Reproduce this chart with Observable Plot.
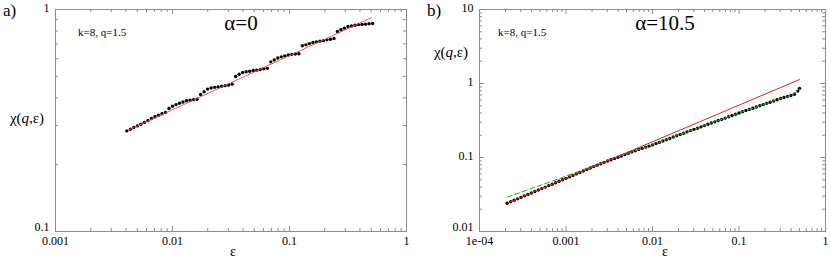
<!DOCTYPE html>
<html><head><meta charset="utf-8">
<script src="https://cdn.jsdelivr.net/npm/d3@7"></script>
<script src="https://cdn.jsdelivr.net/npm/@observablehq/plot@0.6"></script>
<style>
body{margin:0;background:#fff;}
#wrap{display:flex;width:830px;height:258px;overflow:hidden;}
svg, svg text{font-family:"Liberation Serif","Times New Roman",Times,"DejaVu Serif",serif !important;}
</style></head><body><div id="wrap"></div>
<script>
// ---------- panel a (alpha = 0) ----------
const epsA = [0.00407,0.00437,0.00468,0.00501,0.00537,0.00575,0.00617,0.00661,0.00708,0.00759,
  0.00813,0.00871,0.00933,0.0100,0.01072,0.01148,0.01230,0.01318,0.01413,0.01514,
  0.01622,0.01738,0.01862,0.01995,0.02138,0.02291,0.02455,0.02630,0.02818,0.03020,
  0.03236,0.03467,0.03715,0.03981,0.04266,0.04571,0.04898,0.05248,0.05623,0.06026,
  0.06457,0.06918,0.07413,0.07943,0.08511,0.09120,0.09772,0.1047,0.1122,0.1202,
  0.1288,0.1380,0.1479,0.1585,0.1698,0.1820,0.1950,0.2089,0.2239,0.2399,
  0.2570,0.2754,0.2951,0.3162,0.3388,0.3631,0.3890,0.4169,0.4467,0.4786,0.5129];
const chiA = [0.284,0.289,0.294,0.299,0.304,0.310,0.316,0.323,0.329,0.334,
  0.339,0.344,0.358,0.367,0.373,0.378,0.383,0.388,0.390,0.392,
  0.394,0.414,0.426,0.438,0.443,0.446,0.448,0.451,0.454,0.457,
  0.461,0.499,0.511,0.520,0.524,0.527,0.531,0.533,0.537,0.541,
  0.543,0.581,0.593,0.605,0.612,0.618,0.624,0.628,0.630,0.632,
  0.687,0.693,0.702,0.710,0.715,0.720,0.724,0.730,0.735,0.740,
  0.796,0.811,0.824,0.838,0.843,0.849,0.855,0.857,0.859,0.863,0.865];
const fitEpsA = [0.0042, 0.50];
const fitChiA = [0.286, 0.918];
const xTicksA = [0.001, 0.01, 0.1, 1];
const xLabelsA = ["0.001", "0.01", "0.1", "1"];
const yTicksA = [0.1, 1];
const yLabelsA = ["0.1", "1"];

// ---------- panel b (alpha = 10.5) ----------
const epsB = [2.089e-4,2.291e-4,2.512e-4,2.754e-4,3.020e-4,3.311e-4,3.631e-4,3.981e-4,4.365e-4,4.786e-4,
  5.248e-4,5.754e-4,6.310e-4,6.918e-4,7.586e-4,8.318e-4,9.120e-4,1.000e-3,1.096e-3,1.202e-3,
  1.318e-3,1.445e-3,1.585e-3,1.738e-3,1.905e-3,
  2.089e-3,2.291e-3,2.512e-3,2.754e-3,3.020e-3,3.311e-3,3.631e-3,3.981e-3,4.365e-3,4.786e-3,
  5.248e-3,5.754e-3,6.310e-3,6.918e-3,7.586e-3,8.318e-3,9.120e-3,0.01000,0.01096,0.01202,
  0.01318,0.01445,0.01585,0.01738,0.01905,
  0.02089,0.02291,0.02512,0.02754,0.03020,0.03311,0.03631,0.03981,0.04365,0.04786,
  0.05248,0.05754,0.06310,0.06918,0.07586,0.08318,0.09120,0.1000,0.1096,0.1202,
  0.1318,0.1445,0.1585,0.1738,0.1905,
  0.2089,0.2291,0.2512,0.2754,0.3020,0.3311,0.3631,0.3981,0.4365,0.4786,0.5000];
const chiB = [0.0241,0.0252,0.0264,0.0276,0.0289,0.0303,0.0317,0.0332,0.0347,0.0363,
  0.0380,0.0398,0.0417,0.0436,0.0456,0.0478,0.0500,0.0523,0.0547,0.0573,
  0.0600,0.0628,0.0657,0.0688,0.0720,0.0753,0.0788,
  0.0822,0.0860,0.0895,0.0932,0.0970,0.1010,0.1050,0.1095,0.1140,0.1185,
  0.1230,0.1280,0.1330,0.1380,0.1425,0.1480,0.1540,0.1600,0.1670,0.1740,
  0.1810,0.1890,0.1970,
  0.205,0.213,0.222,0.231,0.240,0.249,0.259,0.270,0.281,0.292,
  0.303,0.316,0.328,0.341,0.355,0.369,0.384,0.400,
  0.415,0.431,0.447,0.464,0.482,0.500,0.519,0.539,0.559,0.580,
  0.603,0.626,0.648,0.668,0.690,0.715,0.790,0.860];
const fitEpsB = [2.09e-4, 0.50];
const fitChiB = [0.0241, 1.13];
const greenEpsB = [2.09e-4,0.001,0.003,0.006,0.01,0.02,0.05,0.1,0.2,0.3,0.4,0.5];
const greenChiB = [0.0291,0.0561,0.0905,0.121,0.148,0.201,0.297,0.400,0.527,0.626,0.690,0.840];
const xTicksB = [1e-4, 0.001, 0.01, 0.1, 1];
const xLabelsB = ["1e-04", "0.001", "0.01", "0.1", "1"];
const yTicksB = [0.01, 0.1, 1, 10];
const yLabelsB = ["0.01", "0.1", "1", "10"];

const H = 258, MT = 9, MB = 27;
const GRAY = "#8c8c8c";
const FONT = '"Liberation Serif","Times New Roman",Times,"DejaVu Serif",serif';

function minorOf(majors) {
  const out = [];
  for (let i = 0; i < majors.length - 1; i++)
    for (let m = 2; m <= 9; m++) out.push(majors[i] * m);
  return out;
}
const zip = (xs, ys) => xs.map((x, i) => ({x, y: ys[i]}));

function panel(o) {
  const iw = o.width - o.ml - o.mr, ih = H - MT - MB;
  const xl = new Map(o.xTicks.map((t, i) => [t, o.xLabels[i]]));
  const yl = new Map(o.yTicks.map((t, i) => [t, o.yLabels[i]]));
  const mx = minorOf(o.xTicks), my = minorOf(o.yTicks);
  const svg = Plot.plot({
    width: o.width, height: H,
    marginLeft: o.ml, marginRight: o.mr, marginTop: MT, marginBottom: MB,
    x: {type: "log", domain: [o.xTicks[0], o.xTicks[o.xTicks.length - 1]]},
    y: {type: "log", domain: [o.yTicks[0], o.yTicks[o.yTicks.length - 1]]},
    style: {fontFamily: FONT, fontSize: "12px", background: "white", color: "black"},
    marks: [
      Plot.tickX(o.xTicks, {x: d => d, insetTop: ih - 5, stroke: GRAY}),
      Plot.tickX(o.xTicks, {x: d => d, insetBottom: ih - 5, stroke: GRAY}),
      Plot.tickX(mx, {x: d => d, insetTop: ih - 3, stroke: GRAY}),
      Plot.tickX(mx, {x: d => d, insetBottom: ih - 3, stroke: GRAY}),
      Plot.tickY(o.yTicks, {y: d => d, insetRight: iw - 5, stroke: GRAY}),
      Plot.tickY(o.yTicks, {y: d => d, insetLeft: iw - 5, stroke: GRAY}),
      Plot.tickY(my, {y: d => d, insetRight: iw - 3, stroke: GRAY}),
      Plot.tickY(my, {y: d => d, insetLeft: iw - 3, stroke: GRAY}),
      Plot.frame({stroke: GRAY}),
      Plot.axisX(o.xTicks, {tickSize: 0, tickPadding: 5, tickFormat: d => xl.get(d), label: null, fontSize: 12}),
      Plot.axisY(o.yTicks.slice(1), {tickSize: 0, tickPadding: 6, dy: -1, tickFormat: d => yl.get(d), label: null, fontSize: 12}),
      Plot.axisY(o.yTicks.slice(0, 1), {tickSize: 0, tickPadding: 6, dy: -4, tickFormat: d => yl.get(d), label: null, fontSize: 12}),
      ...o.marks
    ]
  });
  const s = d3.select(svg);
  const t = (x, y, size, anchor, txt) =>
    s.append("text").attr("x", x).attr("y", y).attr("font-size", size)
      .attr("text-anchor", anchor).attr("fill", "black")
      .style("font-family", FONT).text(txt);
  t(o.tagX, 16, 17, "start", o.tag);
  t(o.alphaX, 30, 21, "middle", o.alpha);
  t(o.kX, 36, 11, "start", "k=8, q=1.5");
  t(o.epsX, 256, 14, "middle", "ε");
  const yt = s.append("text").attr("x", o.chiX).attr("y", o.chiY).attr("font-size", 15)
    .attr("text-anchor", "middle").attr("fill", "black").style("font-family", FONT);
  yt.append("tspan").text("χ(");
  yt.append("tspan").attr("font-style", "italic").text("q");
  yt.append("tspan").text(",ε)");
  return svg;
}

const wrap = document.getElementById("wrap");
wrap.append(panel({
  width: 415, ml: 55, mr: 9,
  xTicks: xTicksA, xLabels: xLabelsA, yTicks: yTicksA, yLabels: yLabelsA,
  tag: "a)", tagX: 3, alpha: "α=0", alphaX: 241, kX: 78, epsX: 233, chiX: 27, chiY: 123,
  marks: [
    Plot.dot(zip(epsA, chiA), {x: "x", y: "y", r: 1.7, fill: "black"}),
    Plot.line(zip(fitEpsA, fitChiA), {x: "x", y: "y", stroke: "#ee4444", strokeWidth: 0.9})
  ]
}));
wrap.append(panel({
  width: 415, ml: 64, mr: 5,
  xTicks: xTicksB, xLabels: xLabelsB, yTicks: yTicksB, yLabels: yLabelsB,
  tag: "b)", tagX: 12, alpha: "α=10.5", alphaX: 250, kX: 83, epsX: 250, chiX: 36, chiY: 57,
  marks: [
    Plot.dot(zip(epsB, chiB), {x: "x", y: "y", r: 1.7, fill: "black"}),
    Plot.line(zip(greenEpsB, greenChiB), {x: "x", y: "y", stroke: "#22aa22", strokeWidth: 1, strokeDasharray: "5,3", curve: "monotone-x"}),
    Plot.line(zip(fitEpsB, fitChiB), {x: "x", y: "y", stroke: "#dd2222", strokeWidth: 1})
  ]
}));
</script></body></html>
